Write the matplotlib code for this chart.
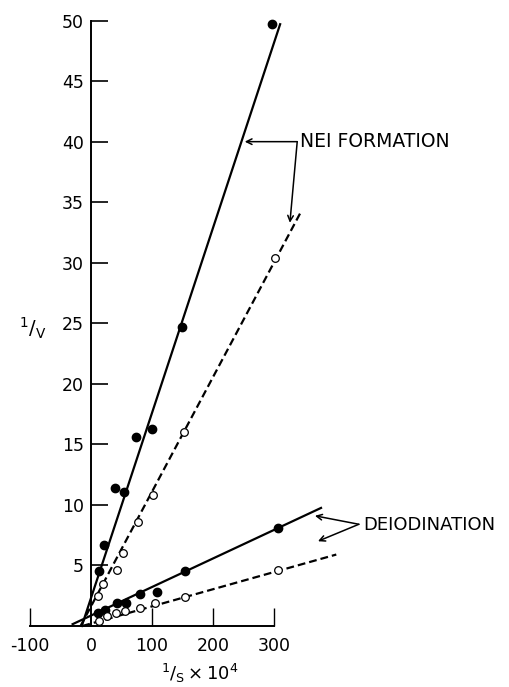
import matplotlib
matplotlib.use("Agg")
import matplotlib.pyplot as plt

# reciprocal plot data: 1/S x 10^4 vs 1/V
nei_filled_x = [13, 21, 39, 54, 74, 100, 150, 297]
nei_filled_y = [4.5, 6.7, 11.4, 11.1, 15.6, 16.3, 24.7, 49.7]
nei_open_x = [11, 20, 42, 53, 77, 101, 152, 302]
nei_open_y = [2.5, 3.5, 4.6, 6.0, 8.6, 10.8, 16.0, 30.4]

deio_filled_x = [12, 23, 42, 57, 80, 108, 154, 307]
deio_filled_y = [1.1, 1.3, 1.9, 1.9, 2.6, 2.8, 4.5, 8.1]
deio_open_x = [14, 26, 41, 56, 80, 105, 154, 307]
deio_open_y = [0.4, 0.8, 1.1, 1.2, 1.5, 1.9, 2.4, 4.6]

# fitted line extents
nei_fit_x = [-15, 310]
nei_fit_y = [0, 49.7]
nei_open_fit_x = [-17, 343]
nei_open_fit_y = [0, 34.1]
deio_fit_x = [-30, 377]
deio_fit_y = [0.15, 9.75]
deio_open_fit_x = [-14, 402]
deio_open_fit_y = [0, 5.9]

x_ticks = [-100, 0, 100, 200, 300]
y_ticks = [5, 10, 15, 20, 25, 30, 35, 40, 45, 50]

fig = plt.figure(figsize=(5.09, 6.87), dpi=100)
ax = fig.add_axes([0, 0, 1, 1])
ax.set_xlim(-149, 685)
ax.set_ylim(-5.04, 51.7)

dash = (0, (3.5, 1.8))
ax.plot(nei_fit_x, nei_fit_y, color="black", lw=1.6, zorder=2)
ax.plot(nei_open_fit_x, nei_open_fit_y, color="black", lw=1.6, ls=dash, zorder=2)
ax.plot(deio_fit_x, deio_fit_y, color="black", lw=1.6, zorder=2)
ax.plot(deio_open_fit_x, deio_open_fit_y, color="black", lw=1.6, ls=dash, zorder=2)

ax.plot(nei_filled_x, nei_filled_y, "o", color="black", ms=6, zorder=3)
ax.plot(deio_filled_x, deio_filled_y, "o", color="black", ms=6, zorder=3)
ax.plot(nei_open_x, nei_open_y, "o", mfc="white", mec="black", mew=0.9, ms=5.5, zorder=3)
ax.plot(deio_open_x, deio_open_y, "o", mfc="white", mec="black", mew=0.9, ms=5.5, zorder=3)

# axes
for s in ["top", "right"]:
    ax.spines[s].set_visible(False)
ax.spines["left"].set_position(("data", 0))
ax.spines["bottom"].set_position(("data", 0))
ax.spines["left"].set_bounds(0, 50)
ax.spines["bottom"].set_bounds(-100, 300)
ax.spines["left"].set_linewidth(1.4)
ax.spines["bottom"].set_linewidth(1.4)
ax.set_xticks(x_ticks)
ax.set_yticks(y_ticks)
ax.set_xticklabels([str(t) for t in x_ticks])
ax.set_yticklabels([str(t) for t in y_ticks])
ax.tick_params(axis="y", direction="in", length=12, width=1.2, pad=5, labelsize=12.5)
ax.tick_params(axis="x", direction="in", length=13, width=1.0, pad=8, labelsize=12.5)
ax.xaxis.get_major_ticks()[1].tick1line.set_visible(False)

ax.text(178, -3.9, r"$^{1}/_{\mathrm{S}}\times10^{4}$", fontsize=13, ha="center", va="center")
ax.text(-96, 24.6, r"$^{1}/_{\mathrm{V}}$", fontsize=14, ha="center", va="center")

# annotations
ax.text(343, 40, "NEI FORMATION", fontsize=13.5, ha="left", va="center")
arr = dict(arrowstyle="->", color="black", lw=1.1, shrinkA=0, shrinkB=0)
ax.annotate("", xy=(252, 40), xytext=(338, 40), arrowprops=arr)
ax.annotate("", xy=(326, 33.3), xytext=(338, 40), arrowprops=arr)

ax.text(447, 8.3, "DEIODINATION", fontsize=13, ha="left", va="center")
ax.annotate("", xy=(367, 9.1), xytext=(439, 8.4), arrowprops=arr)
ax.annotate("", xy=(372, 7.0), xytext=(439, 8.4), arrowprops=arr)

fig.savefig("out.png", dpi=100)
